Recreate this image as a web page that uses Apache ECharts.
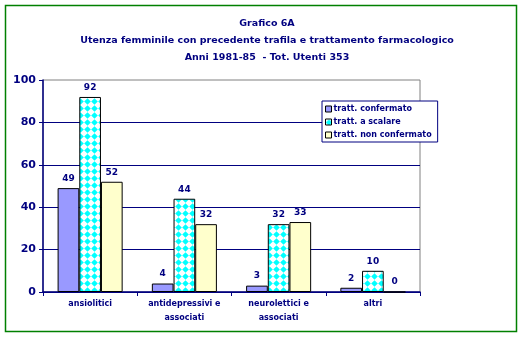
<!DOCTYPE html>
<html><head><meta charset="utf-8">
<script src="https://cdn.jsdelivr.net/npm/echarts@6/dist/echarts.min.js"></script>
<style>html,body{margin:0;padding:0;background:#fff}#c{width:523px;height:337px}</style>
</head><body><div id="c"></div>
<script>
const categories = ['ansiolitici', 'antidepressivi e\nassociati', 'neurolettici e\nassociati', 'altri'];
const seriesNames = ['tratt. confermato', 'tratt. a scalare', 'tratt. non confermato'];
const confermato = [49, 4, 3, 2];
const aScalare = [92, 44, 32, 10];
const nonConfermato = [52, 32, 33, 0];
const yTicks = [0, 20, 40, 60, 80, 100];

const navy = '#000080';
const font = 'DejaVu Sans';

// diamond pattern
const pc = document.createElement('canvas');
pc.width = 7; pc.height = 7;
const px = pc.getContext('2d');
px.fillStyle = '#ffffff'; px.fillRect(0,0,7,7);
px.fillStyle = '#00ffff';
px.beginPath(); px.moveTo(3.5,0.2); px.lineTo(6.8,3.5); px.lineTo(3.5,6.8); px.lineTo(0.2,3.5); px.closePath(); px.fill();

const chart = echarts.init(document.getElementById('c'), null, {renderer:'canvas'});
const lbl = {show:true, position:'top', distance:5, color:navy, fontFamily:font, fontWeight:'bold', fontSize:9};
function mk(name, data, color){
  return {name, type:'bar', data, barGap:'0%', barCategoryGap:'31%',
    itemStyle:{color, borderColor:'#000', borderWidth:1}, label:lbl, emphasis:{disabled:true}};
}
chart.setOption({
  animation:false,
  title:{text:'Grafico 6A\nUtenza femminile con precedente trafila e trattamento farmacologico\nAnni 1981-85  - Tot. Utenti 353',
    left:262, textAlign:'center', top:10,
    textStyle:{color:navy, fontFamily:font, fontWeight:'bold', fontSize:9.5, lineHeight:17}},
  legend:{orient:'vertical', left:322, top:101, itemWidth:6, itemHeight:6, itemGap:5,
    padding:[4,6,3,3], backgroundColor:'#fff', borderColor:navy, borderWidth:1,
    textStyle:{color:navy, fontFamily:font, fontWeight:'bold', fontSize:8, padding:[0,0,0,-3]},
    itemStyle:{borderColor:'#000', borderWidth:1},
    icon:'rect', data:seriesNames},
  grid:{left:43, right:103, top:80, bottom:45, show:true, borderColor:'#808080', borderWidth:1},
  xAxis:{type:'category', data:categories,
    axisLine:{lineStyle:{color:navy, width:1.5}},
    axisTick:{show:true, length:4, lineStyle:{color:navy}},
    axisLabel:{interval:0, color:navy, fontFamily:font, fontWeight:'bold', fontSize:8, lineHeight:14, margin:5}},
  yAxis:{type:'value', min:0, max:100, interval:20,
    axisLine:{show:true, lineStyle:{color:navy, width:1.5}},
    axisTick:{show:true, length:4, lineStyle:{color:navy}},
    splitLine:{showMaxLine:false, lineStyle:{color:navy, width:1}},
    axisLabel:{color:navy, fontFamily:font, fontWeight:'bold', fontSize:11, margin:7,
      formatter:v=> yTicks.includes(v) ? String(v) : ''}},
  series:[
    mk(seriesNames[0], confermato, '#9999ff'),
    mk(seriesNames[1], aScalare, {image:pc, repeat:'repeat'}),
    mk(seriesNames[2], nonConfermato, '#ffffcc')
  ],
  graphic:[{type:'rect', shape:{x:5.5, y:5.5, width:511, height:326}, style:{fill:null, stroke:'#008000', lineWidth:1.5}, silent:true}]
});
</script></body></html>
